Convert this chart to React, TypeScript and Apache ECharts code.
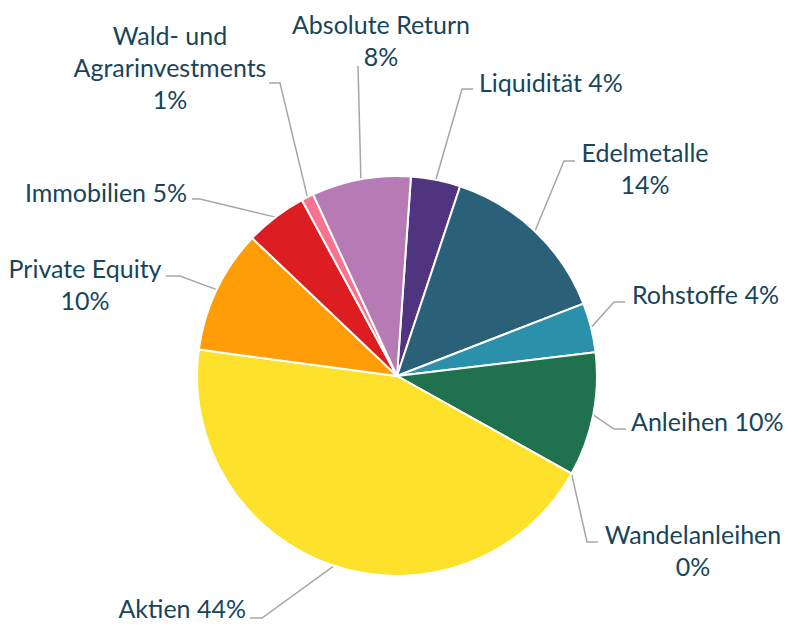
import React, { useEffect, useRef } from "react";
import * as echarts from "echarts";

// Data (clockwise from the top)
const names = [
  "Liquidität",
  "Edelmetalle",
  "Rohstoffe",
  "Anleihen",
  "Wandelanleihen",
  "Aktien",
  "Private Equity",
  "Immobilien",
  "Wald- und Agrarinvestments",
  "Absolute Return",
];
const values = [4, 14, 4, 10, 0, 44, 10, 5, 1, 8];

// Label text forms (line breaks as in the reference)
const labelNames = [
  "Liquidität",
  "Edelmetalle",
  "Rohstoffe",
  "Anleihen",
  "Wandelanleihen",
  "Aktien",
  "Private Equity",
  "Immobilien",
  "Wald- und\nAgrarinvestments",
  "Absolute Return",
];
const labelSeparators = [" ", "\n", " ", " ", "\n", " ", "\n", " ", "\n", "\n"];

// Styles
const colors = [
  "#4f347f",
  "#2a6078",
  "#2b91ab",
  "#20714d",
  "#8c8c8c",
  "#fee12b",
  "#fe9d06",
  "#dc1e22",
  "#f97390",
  "#b67bb5",
];

type Placement = {
  x: number;
  y: number;
  align: "left" | "center" | "right";
  elbow: number[];
  end: number[];
  lineHeight: number;
};

const placements: Placement[] = [
  { x: 479, y: 82, align: "left", elbow: [462, 89], end: [473, 89], lineHeight: 32 },
  { x: 645, y: 168, align: "center", elbow: [564, 161], end: [575, 161], lineHeight: 32 },
  { x: 632, y: 294, align: "left", elbow: [614, 302], end: [625, 302], lineHeight: 32 },
  { x: 631, y: 421, align: "left", elbow: [614, 429], end: [626, 429], lineHeight: 32 },
  { x: 693, y: 550, align: "center", elbow: [587, 542], end: [598, 542], lineHeight: 32 },
  { x: 246, y: 608, align: "right", elbow: [262, 618], end: [250, 618], lineHeight: 25 },
  { x: 85, y: 284, align: "center", elbow: [180, 276], end: [166, 276], lineHeight: 32 },
  { x: 187, y: 192, align: "right", elbow: [200, 199], end: [192, 199], lineHeight: 32 },
  { x: 170, y: 67, align: "center", elbow: [280, 83], end: [269, 83], lineHeight: 32 },
  { x: 381, y: 40, align: "center", elbow: [358, 66], end: [358, 66], lineHeight: 32 },
];

export default function App() {
  const ref = useRef<HTMLDivElement>(null);

  useEffect(() => {
    document.body.style.margin = "0";
    if (!ref.current) return;
    const chart = echarts.init(ref.current, undefined, { renderer: "svg" });
    const data = names.map((n, i) => ({
      name: n,
      value: values[i],
      itemStyle: { color: colors[i] },
      label: { lineHeight: placements[i].lineHeight },
    }));
    chart.setOption({
      animation: false,
      backgroundColor: "#ffffff",
      series: [
        {
          type: "pie",
          center: [397, 376],
          radius: 200,
          startAngle: 86,
          clockwise: true,
          avoidLabelOverlap: false,
          stillShowZeroSum: true,
          minShowLabelAngle: -1,
          data,
          itemStyle: { borderColor: "#ffffff", borderWidth: 2 },
          label: {
            show: true,
            position: "outside",
            fontFamily: "Lato, 'Open Sans', sans-serif",
            fontSize: 25,
            lineHeight: 32,
            color: "#17455b",
            formatter: (p: any) =>
              labelNames[p.dataIndex] +
              labelSeparators[p.dataIndex] +
              Math.round(p.percent) +
              "%",
          },
          labelLine: {
            show: true,
            lineStyle: { color: "#a6a6a6", width: 1.5 },
          },
          labelLayout: (params: any) => {
            const pl = placements[params.dataIndex];
            const pts = params.labelLinePoints;
            const start = pts && pts[0] ? pts[0] : pl.elbow;
            return {
              x: pl.x,
              y: pl.y,
              align: pl.align,
              verticalAlign: "middle",
              labelLinePoints: [start, pl.elbow, pl.end],
            };
          },
        },
      ],
    });
    return () => chart.dispose();
  }, []);

  return (
    <div
      ref={ref}
      style={{ position: "absolute", left: 0, top: 0, width: 787, height: 625 }}
    />
  );
}
